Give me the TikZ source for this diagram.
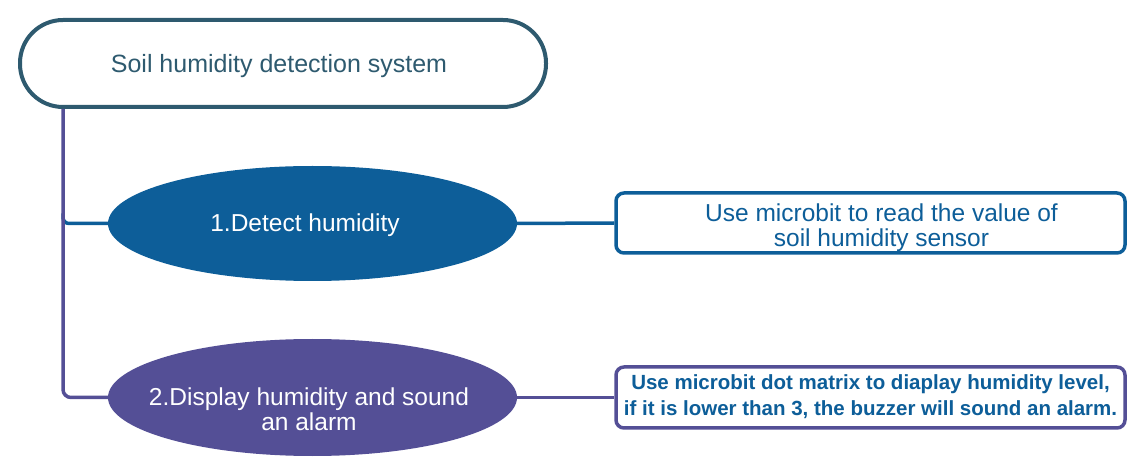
\documentclass[tikz,border=0pt]{standalone}
\usepackage{fontspec}
\setmainfont{Liberation Sans}
\usetikzlibrary{shapes.geometric}
\definecolor{titlec}{HTML}{2E5A6F}
\definecolor{blueone}{HTML}{0D5E99}
\definecolor{purp}{HTML}{544F96}
\newcommand{\zerobox}[2][0pt]{\makebox[0pt]{\raisebox{#1}[0pt][0pt]{\begin{tabular}{@{}c@{}}#2\end{tabular}}}}
\begin{document}
\begin{tikzpicture}[x=1pt,y=-1pt,
  titlebox/.style={draw=titlec, line width=4pt, fill=white, rounded corners=43pt,
    minimum width=526pt, minimum height=87pt, inner sep=0pt, text=titlec,
    font=\fontsize{25}{25}\selectfont},
  ellone/.style={ellipse, fill=#1, minimum width=409pt, minimum height=115pt,
    inner sep=0pt, text=white, font=\fontsize{24.5}{24}\selectfont},
  infobox/.style={draw=#1, line width=3.5pt, fill=white, rounded corners=8pt,
    minimum width=509pt, minimum height=60pt, inner sep=0pt, text=blueone},
  conn/.style={line width=3.5pt, draw=#1}
]
\useasboundingbox (0,0) rectangle (1136,470);
\node[titlebox] (title) at (283,63.5) {\zerobox[-9.5pt]{Soil humidity detection system}\hspace*{8pt}};
\node[ellone=blueone] (e1) at (312.5,223.5) {\zerobox[-9pt]{1.Detect humidity}\hspace*{15pt}};
\node[ellone=purp, minimum height=117pt] (e2) at (312.5,397.5) {\zerobox[-21.5pt]{2.Display humidity and sound\\an alarm}\hspace*{7pt}};
\node[infobox=blueone, font=\fontsize{24.5}{24}\selectfont] (b1) at (870.5,223)
  {\hspace*{22pt}\zerobox[-12pt]{Use microbit to read the value of\\soil humidity sensor}};
\node[infobox=purp, minimum height=61pt, font=\fontsize{20.5}{26}\selectfont\bfseries] (b2) at (870.5,397.5)
  {\zerobox[-5pt]{Use microbit dot matrix to diaplay humidity level,\\if it is lower than 3, the buzzer will sound an alarm.}};
\coordinate (trunk) at ([xshift=45pt]title.south west);
\draw[conn=blueone, rounded corners=6pt] (trunk |- e1.west) ++(0,-10) |- (e1.west);
\draw[conn=purp, rounded corners=8pt] (trunk) |- (e2.west);
\draw[conn=blueone] (e1.east) -- (b1.west);
\draw[conn=purp] (e2.east) -- (b2.west);
\end{tikzpicture}
\end{document}
